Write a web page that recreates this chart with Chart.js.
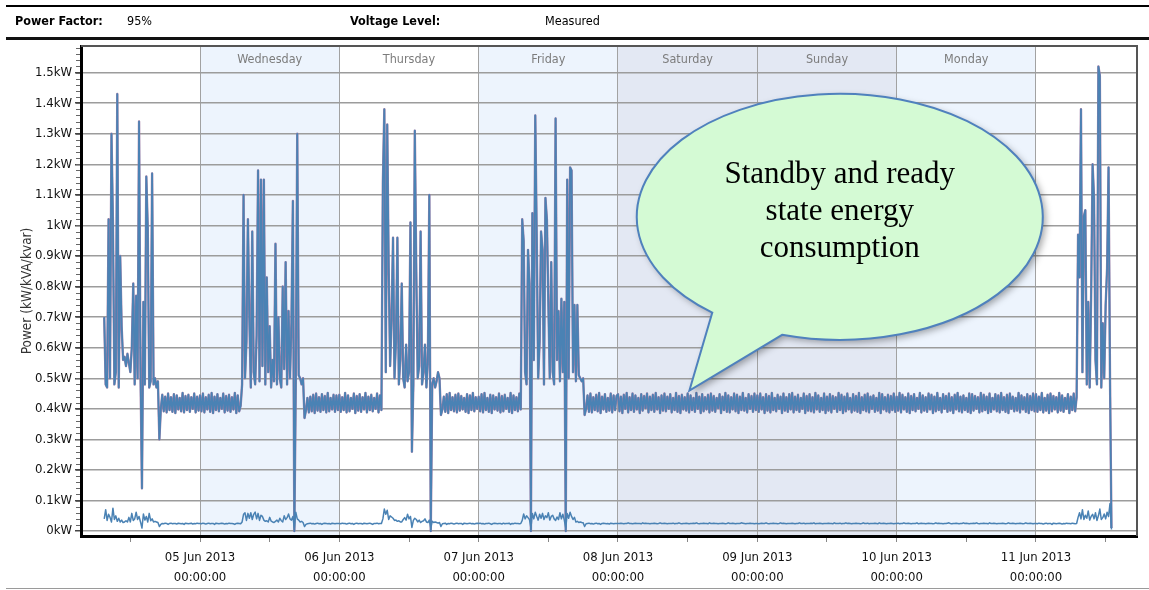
<!DOCTYPE html>
<html>
<head>
<meta charset="utf-8">
<script src="https://cdn.jsdelivr.net/npm/chart.js@4.4.0/dist/chart.umd.min.js"></script>
<style>
  html, body { margin: 0; padding: 0; background: #fff; }
  body { width: 1149px; height: 590px; position: relative; overflow: hidden; font-family: "DejaVu Sans Condensed", "Liberation Sans Narrow", "DejaVu Sans", sans-serif; }
  #myChart { position: absolute; left: 0; top: 0; }
  .rule { position: absolute; left: 6px; right: 0; }
  .hdr { position: absolute; top: 13px; font-size: 12.5px; color: #000; white-space: nowrap; }
  .hdr.b { font-weight: bold; }
</style>
</head>
<body>
<canvas id="myChart" width="1149" height="590"></canvas>
<div class="rule" style="top:5px;height:2px;background:#000"></div>
<div class="hdr b" style="left:15px">Power Factor:</div>
<div class="hdr" style="left:127px">95%</div>
<div class="hdr b" style="left:350px">Voltage Level:</div>
<div class="hdr" style="left:545px">Measured</div>
<div class="rule" style="top:37px;height:3px;background:#111"></div>
<div class="rule" style="top:588px;height:1px;background:#9a9a9a"></div>
<script>
// hours counted from 04 Jun 2013 00:00, samples every 15 min
const stepHours = 0.25
const dateLabels = ['04 Jun 2013', '05 Jun 2013', '06 Jun 2013', '07 Jun 2013', '08 Jun 2013', '09 Jun 2013', '10 Jun 2013', '11 Jun 2013']
const dayNames = ['', 'Wednesday', 'Thursday', 'Friday', 'Saturday', 'Sunday', 'Monday', '']
const dayFills = ['#ffffff', '#edf4fd', '#ffffff', '#edf4fd', '#e3e8f3', '#e3e8f3', '#edf4fd', '#ffffff']
const dayStart = [7.5, 24, 48, 72, 96, 120, 144, 168]
const xTickHours = [12, 24, 36, 48, 60, 72, 84, 96, 108, 120, 132, 144, 156, 168, 180]
const yTickValues = [0, 0.1, 0.2, 0.3, 0.4, 0.5, 0.6, 0.7, 0.8, 0.9, 1.0, 1.1, 1.2, 1.3, 1.4, 1.5]

// active power, W
const tue04 = [
  700,480,470,1020,500,1300,1010,480,520,1430,470,900,
  670,560,570,540,580,550,520,600,810,480,770,500,
  1340,520,140,750,480,1160,990,470,490,1170,480,500,
  470,490,300,400,446,392,440,388,450,396,438,390,
  448,386,444,398,436,392,452,388,442,396,446,390,
  438,400,450,388,440,394]
const wed05 = [
  444,392,450,388,438,398,446,390,452,386,440,396,
  448,392,436,400,450,388,442,394,446,390,438,398,
  452,386,444,392,410,480,1100,500,620,1020,700,470,
  980,520,480,640,1180,490,1150,540,1150,480,830,520,
  670,470,560,490,940,480,700,500,470,800,530,880,
  480,720,500,680,1080,0,490,1300,510,500,480,500,
  370,395,436,388,440,392,446,386,450,394,438,390,
  448,396,442,388,452,392,436,398,446,390,444,396]
const thu06 = [
  446,390,438,396,452,388,444,392,436,400,450,386,
  442,394,448,390,438,398,452,388,440,396,446,392,
  436,400,450,388,444,396,1140,1380,520,1330,860,540,
  700,960,500,620,960,480,560,810,500,470,610,490,
  520,1010,260,480,1310,850,500,540,980,480,520,610,
  470,560,1100,0,480,500,470,490,520,500,380,398,
  440,390,448,386,452,396,438,392,446,388,450,394,
  442,398,436,390,448,386,444,396,452,392,438,400]
const fri07 = [
  440,392,448,388,452,396,436,390,446,386,444,398,
  438,394,450,388,442,392,446,400,436,390,452,386,
  444,396,438,392,450,398,1020,950,520,480,920,810,
  0,1040,560,1360,960,500,620,980,920,480,1090,1020,
  750,500,880,520,480,1350,560,720,490,760,520,750,
  0,1150,500,1190,1180,520,740,490,740,510,500,490,
  500,380,400,444,390,450,388,438,396,446,392,452,
  386,440,398,448,390,436,394,450,388,444,396,442]
const sat08 = [
  448,392,440,386,446,400,452,388,438,396,450,390,444,398,436,386,448,394,442,402,450,388,440,396,
  446,390,452,398,438,386,444,394,450,392,440,400,448,388,436,396,452,390,442,386,446,398,438,394,
  450,388,444,396,436,390,452,400,440,386,448,392,438,398,446,388,450,394,442,390,436,402,448,386,
  440,396,452,390,444,388,438,398,450,392,446,386,440,396,452,394,436,388,448,400,442,390,450,396]
const sun09 = [
  444,390,450,398,438,386,448,394,442,388,452,396,436,392,446,400,440,386,450,394,438,390,448,398,
  452,388,440,396,446,390,436,400,450,386,442,394,448,392,438,388,452,398,444,390,436,396,450,386,
  440,394,448,388,442,400,438,390,452,396,446,386,440,392,450,398,436,388,448,394,442,390,452,386,
  438,396,446,392,450,388,440,400,444,390,436,394,452,386,448,398,438,392,446,388,442,396,450,390]
const mon10 = [
  440,394,452,388,446,398,438,390,450,386,442,396,448,392,436,400,452,388,444,394,438,390,450,398,
  446,386,440,392,452,396,436,388,448,400,442,390,450,394,438,386,446,398,452,392,440,388,444,396,
  436,390,450,386,448,394,442,400,438,388,452,392,446,396,440,386,450,390,436,398,448,392,444,388,
  452,396,438,390,446,386,450,400,440,392,436,394,452,388,444,398,438,390,448,386,442,396,450,392]
const tue11 = [
  448,390,440,396,452,388,436,394,446,386,450,392,
  442,398,438,388,452,394,444,390,436,400,448,386,
  440,396,450,392,438,970,830,1380,520,1030,1050,480,
  750,470,770,1200,1090,560,480,1520,1490,470,680,500,
  740,860,1190,500,10]

// reactive power, var
const tue04Q = [
  40,70,35,55,45,30,75,38,50,32,42,30,
  36,28,30,34,30,45,30,58,35,40,62,38,
  48,30,10,56,36,48,30,58,34,40,30,32,
  30,28,15,22,25,24,26,25,22,25,26,24,
  25,25,23,26,25,24,25,22,26,25,24,25,
  26,23,25,24,26,25]
const wed05Q = [
  25,24,26,25,23,25,26,24,25,25,22,26,
  25,24,25,26,25,23,25,24,26,25,25,24,
  22,25,26,25,24,30,55,60,35,58,42,60,
  38,55,62,40,58,35,52,48,36,32,34,30,
  45,33,30,28,32,36,30,42,34,30,50,38,
  44,56,40,36,48,10,62,40,36,30,32,28,
  15,22,24,25,26,24,25,23,25,26,24,25,
  22,25,26,25,24,25,23,26,25,24,25,25]
const thu06Q = [
  25,24,26,25,25,23,25,26,24,25,22,25,
  26,24,25,25,23,26,25,24,25,26,24,22,
  25,25,26,24,25,25,40,72,55,68,38,50,
  46,42,35,36,32,34,30,30,38,44,36,55,
  40,48,12,35,42,38,30,36,28,32,34,40,
  30,28,36,10,32,28,30,28,26,28,15,24,
  25,26,22,25,24,26,25,23,25,26,24,25,
  25,22,26,25,24,25,26,24,25,23,25,26]
const fri07Q = [
  25,26,24,25,23,25,25,26,24,22,25,26,
  25,24,25,25,23,26,24,25,25,26,22,25,
  24,26,25,25,24,25,35,56,40,50,44,38,
  10,58,40,62,48,36,55,42,58,38,50,44,
  60,36,48,52,40,35,46,38,60,40,55,36,
  10,58,42,62,48,38,45,30,32,28,30,28,
  27,15,24,25,26,24,25,23,25,26,24,25,
  22,25,26,25,24,25,23,26,25,24,25,25]
const sat08Q = [
  25,25,26,25,24,25,25,27,25,25,24,25,26,25,25,25,24,27,25,26,25,25,24,25,
  25,26,25,24,25,27,25,25,26,25,24,25,25,25,26,24,25,25,27,25,24,25,25,26,
  25,24,25,25,26,25,27,25,24,25,25,26,25,25,24,27,25,25,26,25,25,24,25,25,
  26,25,24,25,27,25,25,26,25,24,25,25,25,27,26,25,24,25,25,26,25,25,24,25]
const sun09Q = [
  25,24,25,26,25,25,27,25,24,25,25,26,25,25,24,25,27,25,26,25,24,25,25,25,
  26,25,24,25,25,27,25,25,26,24,25,25,25,26,25,27,24,25,25,26,25,24,25,25,
  25,26,25,25,24,27,25,25,25,26,24,25,25,27,25,26,25,24,25,25,26,25,25,24,
  25,27,25,25,26,24,25,25,25,26,25,24,27,25,25,26,25,24,25,25,26,25,24,25]
const mon10Q = [
  25,26,24,25,25,27,25,25,26,25,24,25,25,25,27,24,25,26,25,25,24,25,26,25,
  25,24,25,27,25,26,25,25,24,25,25,26,27,25,24,25,25,26,25,24,25,25,27,25,
  26,25,24,25,25,26,25,27,25,24,25,25,26,25,25,24,27,25,25,26,25,24,25,25,
  25,26,25,24,25,27,25,25,26,25,24,25,25,26,25,24,25,27,25,25,26,25,24,25]
const tue11Q = [
  25,24,26,25,25,23,25,26,24,25,25,22,
  26,25,24,25,26,25,23,25,24,26,25,25,
  24,26,25,24,25,45,60,40,70,38,52,42,
  66,36,48,55,40,60,35,50,72,38,44,56,
  40,62,48,90,5]

const powerDays = [tue04, wed05, thu06, fri07, sat08, sun09, mon10, tue11]
const reactiveDays = [tue04Q, wed05Q, thu06Q, fri07Q, sat08Q, sun09Q, mon10Q, tue11Q]

function toPoints(days) {
  const pts = []
  days.forEach((arr, d) => {
    arr.forEach((w, i) => pts.push({ x: dayStart[d] + i * stepHours, y: w / 1000 }))
  })
  return pts
}
const kwPoints = toPoints(powerDays)
const kvarPoints = toPoints(reactiveDays)

const uiFont = '"DejaVu Sans Condensed", "Liberation Sans Narrow", "DejaVu Sans", sans-serif'

const bandsPlugin = {
  id: 'bands',
  beforeDraw(chart) {
    const { ctx, chartArea: a, scales: { x, y } } = chart
    ctx.save()
    const labelY = (a.top + y.getPixelForValue(1.5)) / 2
    dayFills.forEach((c, d) => {
      const x0 = Math.max(a.left, x.getPixelForValue(d * 24))
      const x1 = Math.min(a.right, x.getPixelForValue(d * 24 + 24))
      ctx.fillStyle = c
      ctx.fillRect(x0, a.top, x1 - x0, a.bottom - a.top)
      if (dayNames[d]) {
        ctx.fillStyle = '#7c7c7c'
        ctx.font = '12.5px ' + uiFont
        ctx.textAlign = 'center'
        ctx.textBaseline = 'middle'
        ctx.fillText(dayNames[d], (x0 + x1) / 2, labelY)
      }
    })
    ctx.restore()
  }
}

const framePlugin = {
  id: 'frame',
  afterDraw(chart) {
    const { ctx, chartArea: a, scales: { y } } = chart
    ctx.save()
    ctx.strokeStyle = '#555'
    ctx.lineWidth = 2
    ctx.beginPath()
    ctx.moveTo(a.left, a.top)
    ctx.lineTo(a.right, a.top)
    ctx.lineTo(a.right, a.bottom)
    ctx.stroke()
    // minor ticks on the value axis
    ctx.lineWidth = 1
    ctx.strokeStyle = '#666'
    for (let v = 0.02; v < 1.59; v += 0.02) {
      const py = Math.round(y.getPixelForValue(v)) + 0.5
      ctx.beginPath()
      ctx.moveTo(a.left - 5, py)
      ctx.lineTo(a.left - 1, py)
      ctx.stroke()
    }
    ctx.restore()
  }
}

// speech bubble anchored in data units (hours, kW)
const bubbleCenter = [134.2, 1.028]
const bubbleTip = [108.3, 0.46]
const bubbleLines = ['Standby and ready', 'state energy', 'consumption']

const calloutPlugin = {
  id: 'callout',
  afterDraw(chart) {
    const { ctx, scales: { x, y } } = chart
    const cx = x.getPixelForValue(bubbleCenter[0])
    const cy = y.getPixelForValue(bubbleCenter[1])
    const tx = x.getPixelForValue(bubbleTip[0])
    const ty = y.getPixelForValue(bubbleTip[1])
    const rx = 203, ry = 123
    const a1 = 128.9 * Math.PI / 180
    const a2 = (106.5 + 360) * Math.PI / 180
    ctx.save()
    ctx.beginPath()
    ctx.ellipse(cx, cy, rx, ry, 0, a1, a2, false)
    ctx.lineTo(tx, ty)
    ctx.closePath()
    ctx.shadowColor = 'rgba(0,0,0,0.35)'
    ctx.shadowBlur = 7
    ctx.shadowOffsetX = 3
    ctx.shadowOffsetY = 3
    ctx.fillStyle = '#d4fad4'
    ctx.fill()
    ctx.shadowColor = 'transparent'
    ctx.strokeStyle = '#4f81bd'
    ctx.lineWidth = 2
    ctx.stroke()
    ctx.fillStyle = '#000'
    ctx.font = '31px "Liberation Serif", "Times New Roman", serif'
    ctx.textAlign = 'center'
    ctx.textBaseline = 'alphabetic'
    bubbleLines.forEach((t, i) => ctx.fillText(t, cx, cy - 34 + i * 37))
    ctx.restore()
  }
}

const tickFont = { family: uiFont, size: 13, lineHeight: 1.5 }

const myChart = new Chart(document.getElementById('myChart'), {
  type: 'line',
  data: {
    datasets: [
      { label: 'kW', data: kwPoints, borderColor: '#4a82b4', borderWidth: 1.7, order: 1 },
      { label: 'kvar', data: kvarPoints, borderColor: '#4a82b4', borderWidth: 1.5, order: 2 },
      { label: 'kVA', data: kwPoints, borderColor: '#a07ea6', borderWidth: 2.4, order: 3 }
    ]
  },
  options: {
    responsive: false,
    animation: false,
    normalized: true,
    layout: { padding: { top: 46, right: 12, left: 0, bottom: 0 } },
    elements: {
      point: { radius: 0 },
      line: { tension: 0, fill: false, borderJoinStyle: 'round' }
    },
    plugins: { legend: { display: false }, tooltip: { enabled: false } },
    scales: {
      x: {
        type: 'linear',
        min: 3.5,
        max: 185.4,
        afterFit: s => { s.height = 54 },
        afterBuildTicks: s => { s.ticks = xTickHours.map(v => ({ value: v })) },
        ticks: {
          autoSkip: false,
          maxRotation: 0,
          padding: 6,
          color: '#111',
          font: tickFont,
          callback: v => v % 24 === 0 ? [dateLabels[v / 24], '00:00:00'] : ''
        },
        grid: {
          color: c => (c.tick && c.tick.value % 24 === 0) ? '#a2a2a2' : 'rgba(0,0,0,0)',
          tickColor: '#888',
          tickLength: 6,
          lineWidth: 1
        },
        border: { color: '#000', width: 3 }
      },
      y: {
        min: -0.016,
        max: 1.587,
        afterFit: s => { s.width = 81 },
        afterBuildTicks: s => { s.ticks = yTickValues.map(v => ({ value: v })) },
        ticks: {
          padding: 3,
          color: '#111',
          font: { family: uiFont, size: 13 },
          callback: v => Number(v.toFixed(1)) + 'kW'
        },
        grid: { color: '#9c9c9c', lineWidth: 1.5, tickColor: '#444', tickLength: 6 },
        border: { color: '#000', width: 3 },
        title: {
          display: true,
          text: 'Power (kW/kVA/kvar)',
          color: '#333',
          font: { family: uiFont, size: 13.5 },
          padding: { top: 19, bottom: 0 }
        }
      }
    }
  },
  plugins: [bandsPlugin, framePlugin, calloutPlugin]
})
</script>
</body>
</html>
